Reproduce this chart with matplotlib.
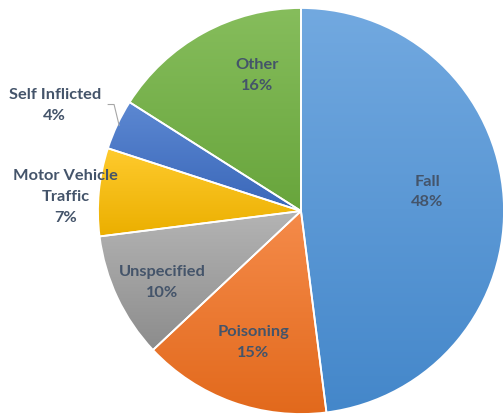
import matplotlib
matplotlib.use("Agg")
import matplotlib.pyplot as plt
import numpy as np
from matplotlib.colors import LinearSegmentedColormap

# data, clockwise from 12 o'clock
labels = ["Fall", "Poisoning", "Unspecified", "Motor Vehicle\nTraffic", "Self Inflicted", "Other"]
shares = [48, 15, 10, 7, 4, 16]
# (top colour, bottom colour) per slice - Excel style gradient
top_colors = ["#72A9E0", "#F58B4A", "#B4B4B4", "#FFCB2E", "#5C88D2", "#86BD5C"]
bottom_colors = ["#4487CA", "#E2691C", "#8C8C8C", "#EBAF00", "#3A67B9", "#68A53C"]
# label placement: fraction of radius and angle tweak (deg)
label_r = [0.63, 0.69, 0.77, 1.16, 1.32, 0.70]
label_dang = [5, 0, 2, 2, 2, -11]

W, H, DPI = 503, 418, 100
cx, cy, R = 301, 211, 203   # pie centre / radius in pixels

plt.rcParams['font.family'] = ['Lato', 'DejaVu Sans']
text_color = "#44546A"

fig = plt.figure(figsize=(W / DPI, H / DPI), dpi=DPI)
ax = fig.add_axes([0, 0, 1, 1])

wedges, _ = ax.pie(shares, startangle=90, counterclock=False, radius=1,
                   wedgeprops=dict(linewidth=0))

ax.set_aspect('equal')
ax.axis('off')

grad = np.linspace(0, 1, 256).reshape(-1, 1)
for w, c0, c1 in zip(wedges, top_colors, bottom_colors):
    w.set_facecolor("none")
    ext = w.get_path().get_extents(w.get_patch_transform())
    cmap = LinearSegmentedColormap.from_list("g", [c0, c1])
    im = ax.imshow(grad, cmap=cmap, aspect='auto', origin='upper',
                   extent=[ext.x0, ext.x1, ext.y0, ext.y1], zorder=1)
    im.set_clip_path(w)
    w.set_edgecolor("white")
    w.set_linewidth(1.3)
    w.set_zorder(2)

ax.set_xlim(-cx / R, (W - cx) / R)
ax.set_ylim(-(H - cy) / R, cy / R)

for w, lab, s, r, da in zip(wedges, labels, shares, label_r, label_dang):
    mid = np.deg2rad((w.theta1 + w.theta2) / 2 + da)
    x, y = r * np.cos(mid), r * np.sin(mid)
    ax.text(x, y, f"{lab}\n{s}%", ha="center", va="center", fontsize=11.8,
            fontweight="bold", color=text_color, linespacing=1.6, zorder=3)

# leader line for the small "Self Inflicted" slice
w = wedges[4]
mid = np.deg2rad((w.theta1 + w.theta2) / 2)
ex, ey = np.cos(mid) * 0.99, np.sin(mid) * 0.99
ax.plot([ex - 0.054, ex - 0.025, ex], [ey + 0.103, ey + 0.103, ey],
        color="#A6A6A6", linewidth=0.8, zorder=3)

fig.savefig("out.png", dpi=DPI)
